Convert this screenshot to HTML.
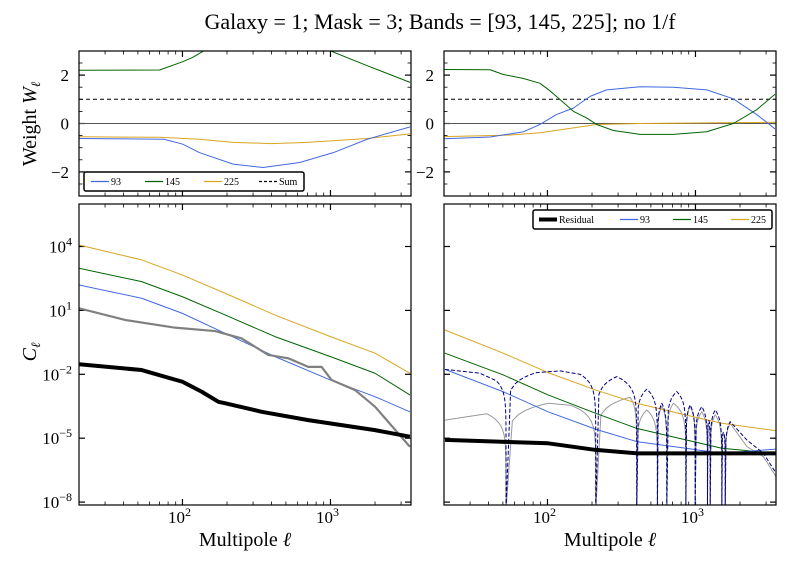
<!DOCTYPE html>
<html><head><meta charset="utf-8"><style>
html,body{margin:0;padding:0;background:#fff;}
svg{display:block;font-family:"Liberation Serif","DejaVu Serif",serif;}
</style></head><body>
<svg id="fig" width="791" height="568" viewBox="0 0 791 568" xmlns="http://www.w3.org/2000/svg">
<rect width="791" height="568" fill="#fff"/>
<text x="440" y="29" font-size="22" text-anchor="middle" font-family="Liberation Serif, serif">Galaxy = 1; Mask = 3; Bands = [93, 145, 225]; no 1/f</text>
<text transform="translate(36,124) rotate(-90)" font-size="20" text-anchor="middle">Weight <tspan font-style="italic">W</tspan><tspan font-size="13" font-style="italic" dy="4">ℓ</tspan></text>
<text transform="translate(36,352) rotate(-90)" font-size="20" text-anchor="middle"><tspan font-style="italic">C</tspan><tspan font-size="13" font-style="italic" dy="4">ℓ</tspan></text>
<text x="245" y="546" font-size="20" text-anchor="middle">Multipole <tspan font-style="italic">ℓ</tspan></text>
<text x="610" y="546" font-size="20" text-anchor="middle">Multipole <tspan font-style="italic">ℓ</tspan></text>
<g id="plots"></g>
</svg>
<script>
// ---------- data (ell positions and values) ----------
// top-left weights
const tlBlueL = [20,75,100,130,220,350,620,1050,1770,3450];
const tlBlueV = [-0.62,-0.65,-0.85,-1.2,-1.68,-1.82,-1.61,-1.2,-0.65,-0.14];
const tlGreenL = [20,70,100,117,139,250,450,700,1000,1770,3450];
const tlGreenV = [2.2,2.21,2.55,2.73,3.0,3.5,3.7,3.5,3.0,2.39,1.7];
const tlOrangeL = [20,70,130,220,400,700,1770,3450];
const tlOrangeV = [-0.55,-0.57,-0.65,-0.78,-0.83,-0.78,-0.62,-0.43];
// top-right weights
const trGreenL = [20,41,50,69,89,104,122,150,184,215,279,422,709,1191,1803,2594,3445];
const trGreenV = [2.23,2.22,2.03,1.86,1.66,1.35,0.98,0.5,0.23,-0.04,-0.29,-0.45,-0.45,-0.34,0,0.57,1.21];
const trBlueL = [20,41,69,89,115,150,194,251,422,709,1191,1803,2594,3445];
const trBlueV = [-0.63,-0.56,-0.34,-0.04,0.37,0.64,1.12,1.39,1.52,1.5,1.39,1.02,0.37,-0.22];
const trOrangeL = [20,55,89,150,215,422,3445];
const trOrangeV = [-0.54,-0.48,-0.38,-0.18,-0.04,0,0.05];
const sumWeight = 1;
// bottom-left spectra (log10 C_ell)
const blL = [20,53,100,195,422,1000,2000,3440];
const blOrange = [4.07,3.37,2.66,1.80,0.78,-0.23,-1.01,-1.95];
const blGreen = [2.98,2.35,1.64,0.78,-0.23,-1.17,-1.95,-2.97];
const blBlue = [2.19,1.57,0.86,-0.08,-1.17,-2.27,-3.05,-3.76];
const blGrayL = [20,41,89,166,250,380,519,708,870,1018,1466,2000,3440];
const blGray = [1.10,0.55,0.19,0.03,-0.31,-1.09,-1.25,-1.65,-1.65,-2.27,-2.74,-3.52,-5.40];
const blResL = [20,53,100,135,175,195,343,708,2000,3440];
const blRes = [-1.53,-1.80,-2.35,-2.82,-3.29,-3.36,-3.76,-4.15,-4.62,-4.93];
// bottom-right spectra (log10 C_ell; null = zero crossing)
const brL = [20.3,50.3,101,212,401,861,1507,3508];
const brOrange = [0.08,-1.01,-1.92,-2.74,-3.36,-3.91,-4.30,-4.65];
const brGreen = [-1.01,-2.03,-2.97,-3.83,-4.54,-5.08,-5.47,-5.71];
const brBlue = [-1.77,-2.82,-3.76,-4.58,-5.16,-5.47,-5.71,-5.51];
const brResL = [20.3,101,212,401,3508];
const brRes = [-5.08,-5.24,-5.55,-5.71,-5.71];
const brDashL = [20.3,35,45,52.5,84.5,122,166,212,294,401,469,553,592,640,748,861,920,995,1104,1205,1257,1359,1507,1588,1716,2222,2882,3508];
const brDash = [-1.77,-1.95,-2.3,null,-1.92,-1.84,-2.0,null,-2.11,null,-2.70,null,-3.36,null,-2.81,null,-3.44,null,-3.52,null,null,-3.67,null,null,-4.22,-5.08,-5.71,-6.65];
const brGrayL = [20.3,38.8,52.5,101,142,212,361,401,469,553,592,640,710,861,920,995,1104,1205,1257,1359,1507,1588,1716,2222,2882,3508];
const brGray = [-4.15,-3.85,null,-3.36,-3.45,null,-3.08,null,-3.68,null,-3.5,null,-3.36,null,-3.5,null,-3.76,null,null,-3.9,null,null,-4.30,-5.39,-5.87,-6.81];
// tick labels
const wTicks = [2,0,-2];
const cTicks = [4,1,-2,-5,-8];
const xDecades = [2,3];

// ---------- drawing ----------
const NS = "http://www.w3.org/2000/svg";
const root = document.getElementById('plots');
const LMIN = Math.log10(20), LMAX = Math.log10(3500);
function mk(tag, attrs, parent){ const e=document.createElementNS(NS,tag); for(const k in attrs) e.setAttribute(k,attrs[k]); (parent||root).appendChild(e); return e; }
function panel(x0,x1,y0,y1,type){
  const p = {x0,x1,y0,y1,type};
  p.xl = ll => x0 + (ll-LMIN)/(LMAX-LMIN)*(x1-x0);
  p.x = l => p.xl(Math.log10(l));
  if(type==='w'){ p.y = v => 123.5 - v*24.2; }
  else { p.y = lv => (lv===null || !isFinite(lv)) ? y1+5 : Math.min(y1+5, 246.5 - (lv-4)*21.3); }
  return p;
}
const TL = panel(79,411,51,196,'w'), TR = panel(444,776,51,196,'w');
const BL = panel(79,411,204,505,'c'), BR = panel(444,776,204,505,'c');
let clipN=0;
function clipFor(p){ clipN++; const d=mk('clipPath',{id:'c'+clipN}); mk('rect',{x:p.x0,y:p.y0,width:p.x1-p.x0,height:p.y1-p.y0},d); return 'url(#c'+clipN+')'; }
const TS = [0,0.15,0.3,0.45,0.6,0.72,0.82,0.9,0.95,0.98,0.993,0.998,1];
function pts(p, ls, vs){
  const out=[];
  const push=(ll,v)=>out.push([p.xl(ll),p.y(v)]);
  for(let i=0;i<ls.length;i++){
    const a=Math.log10(ls[i]);
    if(i===0){ push(a,vs[0]); continue; }
    const b0=Math.log10(ls[i-1]), va=vs[i-1], vb=vs[i];
    if(va!==null && vb!==null){ push(a,vb); continue; }
    let ref = va!==null?va:vb;
    if(ref===null){ // between two zeros: small arch
      let k=i; while(k<vs.length && vs[k]===null) k++;
      ref = (k<vs.length? vs[k] : -5) - 0.5;
    }
    TS.forEach(t=>{
      if(t===0) return;
      const ll=b0+t*(a-b0);
      let f;
      if(va!==null) f=1-t; else if(vb!==null) f=t; else f=4*t*(1-t);
      push(ll, f<=0? null : ref+Math.log10(f));
    });
  }
  return out;
}
function line(p, ls, vs, color, w, name, dash){
  let d=''; pts(p,ls,vs).forEach((q,i)=>{ d += (i?'L':'M') + q[0].toFixed(2)+','+q[1].toFixed(2); });
  const a={d, fill:'none', stroke:color, 'stroke-width':w, 'stroke-linejoin':'round', 'clip-path':p.clip};
  if(dash) a['stroke-dasharray']=dash;
  const e=mk('path',a);
  
  
  return e;
}
function frame(p, name, yLabels){
  p.clip = clipFor(p);
  const g = mk('g',{});
  
  
  for(let dec=1; dec<=3; dec++){
    for(let m=1;m<10;m++){
      const l=m*Math.pow(10,dec); if(l<20||l>3500) continue;
      const x=p.x(l), len = m===1?6:3.5;
      mk('line',{x1:x,x2:x,y1:p.y1,y2:p.y1-len,stroke:'#000','stroke-width':m===1?1.2:0.8},g);
      mk('line',{x1:x,x2:x,y1:p.y0,y2:p.y0+len,stroke:'#000','stroke-width':m===1?1.2:0.8},g);
    }
  }
  if(p.type==='w'){
    for(let v=-3; v<=3; v+=0.5){
      const y=p.y(v); if(y<p.y0||y>p.y1) continue;
      const major = (v%2===0), len=major?6:3.5;
      mk('line',{x1:p.x0,x2:p.x0+len,y1:y,y2:y,stroke:'#000','stroke-width':major?1.2:0.8},g);
      mk('line',{x1:p.x1,x2:p.x1-len,y1:y,y2:y,stroke:'#000','stroke-width':major?1.2:0.8},g);
    }
    wTicks.forEach(v=>{
      const t=mk('text',{x:p.x0-10,y:p.y(v)+6,'font-size':17,'text-anchor':'end'},g);
      t.textContent = v<0 ? '\u2212'+Math.abs(v) : String(v);
      
      
    });
  } else {
    cTicks.forEach(v=>{
      const y=p.y(v);
      mk('line',{x1:p.x0,x2:p.x0+6,y1:y,y2:y,stroke:'#000','stroke-width':1.2},g);
      mk('line',{x1:p.x1,x2:p.x1-6,y1:y,y2:y,stroke:'#000','stroke-width':1.2},g);
      if(yLabels){
        const t=mk('text',{x:p.x0-7,y:y+6,'font-size':17,'text-anchor':'end'},g);
        
        
        t.appendChild(document.createTextNode('10'));
        const s=mk('tspan',{'font-size':12,dy:-7},t); s.textContent = v<0?'\u2212'+Math.abs(v):String(v);
      }
    });
    xDecades.forEach(dd=>{
      const t=mk('text',{x:p.x(Math.pow(10,dd))-3,y:523,'font-size':17,'text-anchor':'middle'},g);
      
      
      t.appendChild(document.createTextNode('10'));
      const s=mk('tspan',{'font-size':12,dy:-7},t); s.textContent=String(dd);
    });
  }
  return g;
}
function border(p){ mk('rect',{x:p.x0,y:p.y0,width:p.x1-p.x0,height:p.y1-p.y0,fill:'none',stroke:'#000','stroke-width':1.2}); }

const BLUE='#4169e1', GREEN='#006400', ORANGE='#daa520';
frame(TL,'weights-left',true);
line(TL,[20,3500],[0,0],'#555',1,'zero-line-left');
line(TL,[20,3500],[sumWeight,sumWeight],'#000',1,'sum-line-left','4,3');
line(TL,tlGreenL,tlGreenV,GREEN,1,'weight-145-left');
line(TL,tlOrangeL,tlOrangeV,ORANGE,1,'weight-225-left');
line(TL,tlBlueL,tlBlueV,BLUE,1,'weight-93-left');
border(TL);
frame(TR,'weights-right',true);
line(TR,[20,3500],[0,0],'#555',1,'zero-line-right');
line(TR,[20,3500],[sumWeight,sumWeight],'#000',1,'sum-line-right','4,3');
line(TR,trOrangeL,trOrangeV,ORANGE,1,'weight-225-right');
line(TR,trBlueL,trBlueV,BLUE,1,'weight-93-right');
line(TR,trGreenL,trGreenV,GREEN,1,'weight-145-right');
border(TR);
frame(BL,'spectra-left',true);
line(BL,blL,blOrange,ORANGE,1,'cl-225-left');
line(BL,blL,blGreen,GREEN,1,'cl-145-left');
line(BL,blL,blBlue,BLUE,1,'cl-93-left');
line(BL,blGrayL,blGray,'#808080',2.2,'cl-cmb-left');
line(BL,blResL,blRes,'#000',4,'cl-residual-left');
border(BL);
frame(BR,'spectra-right',false);
line(BR,brGrayL,brGray,'#999',1,'cl-cmb-right');
line(BR,brL,brOrange,ORANGE,1,'cl-225-right');
line(BR,brL,brGreen,GREEN,1,'cl-145-right');
line(BR,brL,brBlue,BLUE,1,'cl-93-right');
line(BR,brDashL,brDash,'#000080',1,'cl-sum-dashed-right','4,2');
line(BR,brResL,brRes,'#000',4,'cl-residual-right');
border(BR);

function legend(x,y,w,h,items,name){
  const g=mk('g',{});
  
  
  mk('rect',{x,y,width:w,height:h,rx:2,fill:'#fff',stroke:'#000','stroke-width':1.5},g);
  items.forEach(it=>{
    const ly=y+h/2;
    const a={x1:it.x,x2:it.x+18,y1:ly,y2:ly,stroke:it.c,'stroke-width':it.w};
    if(it.d) a['stroke-dasharray']=it.d;
    mk('line',a,g);
    const t=mk('text',{x:it.x+20,y:ly+3.5,'font-size':10},g);
    t.textContent=it.t;
    
    
  });
}
legend(84,172,220,19,[{x:91,c:BLUE,w:1.3,t:'93'},{x:145,c:GREEN,w:1.3,t:'145'},{x:204,c:ORANGE,w:1.3,t:'225'},{x:259,c:'#000',w:1.2,t:'Sum',d:'3,2'}],'weights-legend');
legend(533,210,239,19,[{x:539,c:'#000',w:4,t:'Residual'},{x:620,c:BLUE,w:1.3,t:'93'},{x:673,c:GREEN,w:1.3,t:'145'},{x:731,c:ORANGE,w:1.3,t:'225'}],'spectra-legend');
</script>
</body></html>
